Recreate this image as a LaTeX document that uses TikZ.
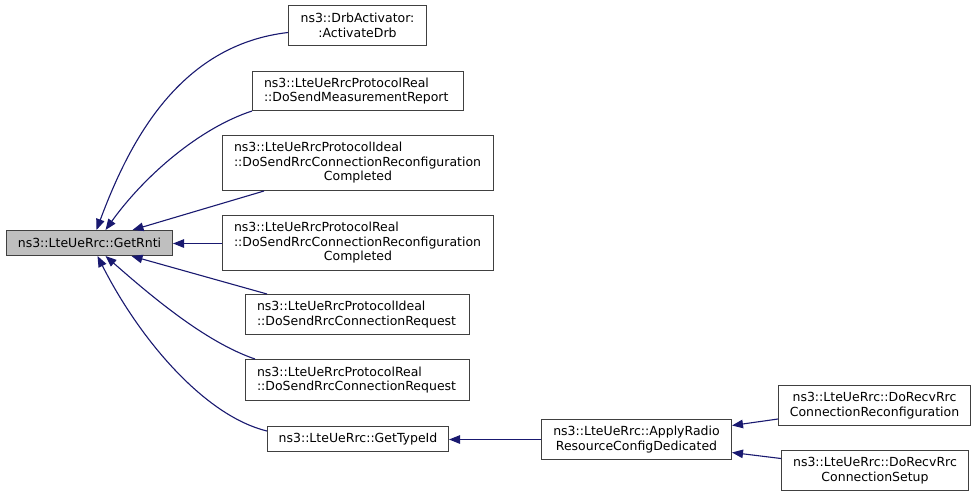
\documentclass[tikz,border=0pt]{standalone}
\usepackage{fontspec}
\setmainfont{DejaVu Sans}
\usetikzlibrary{arrows.meta,calc}
\definecolor{edgeblue}{HTML}{191970}
\definecolor{boxgray}{HTML}{BFBFBF}
\definecolor{boxline}{HTML}{404040}
\tikzset{
  box/.style={draw=boxline, line width=1pt, anchor=north west, inner xsep=0pt, inner ysep=0pt,
    font=\fontsize{12.5}{14.5}\selectfont, align=center},
  lbox/.style={box, align=left, inner xsep=11.5pt},
  edge/.style={draw=edgeblue, line width=1.1pt, -{Triangle[length=11pt,width=8.5pt]}},
}
\begin{document}
\begin{tikzpicture}[x=1pt,y=-1pt]
\useasboundingbox (0,0) rectangle (976,496);
\fill[white] (0,0) rectangle (976,496);

\node[box, fill=boxgray, minimum width=166pt, minimum height=25pt] (rnti) at (6,230) {ns3::LteUeRrc::GetRnti};
\node[box, minimum width=138pt, minimum height=40pt] (drb) at (288,5) {ns3::DrbActivator:\\:ActivateDrb};
\node[lbox, text width=188pt, minimum height=39pt] (meas) at (252,71) {ns3::LteUeRrcProtocolReal\\::DoSendMeasurementReport};
\node[lbox, text width=248pt, minimum height=55pt] (idealrec) at (222,135) {ns3::LteUeRrcProtocolIdeal\\::DoSendRrcConnectionReconfiguration\\\makebox[\linewidth][c]{Completed}};
\node[lbox, text width=248pt, minimum height=55pt] (realrec) at (222,215) {ns3::LteUeRrcProtocolReal\\::DoSendRrcConnectionReconfiguration\\\makebox[\linewidth][c]{Completed}};
\node[lbox, text width=201pt, minimum height=40pt] (idealreq) at (245,294) {ns3::LteUeRrcProtocolIdeal\\::DoSendRrcConnectionRequest};
\node[lbox, text width=201pt, minimum height=41pt] (realreq) at (245,359) {ns3::LteUeRrcProtocolReal\\::DoSendRrcConnectionRequest};
\node[box, minimum width=181pt, minimum height=25pt] (typeid) at (267,426) {ns3::LteUeRrc::GetTypeId};
\node[box, minimum width=190pt, minimum height=40pt] (apply) at (541,419) {ns3::LteUeRrc::ApplyRadio\\ResourceConfigDedicated};
\node[box, minimum width=192pt, minimum height=40pt] (recvrec) at (778,385) {ns3::LteUeRrc::DoRecvRrc\\ConnectionReconfiguration};
\node[box, minimum width=187pt, minimum height=40pt] (recvsetup) at (781,450) {ns3::LteUeRrc::DoRecvRrc\\ConnectionSetup};

\coordinate (rntiin) at ($(rnti.east)+(0,0.5)$);
\coordinate (typein) at ($(typeid.east)+(0,0.5)$);

\draw[edge] ($(drb.west)+(0,7)$) .. controls (180,45) and (130,140) .. ($(rnti.north)+(7,0)$);
\draw[edge] (meas.south west) .. controls (200,128) and (145,175) .. ($(rnti.north)+(16,0)$);
\draw[edge] ($(idealrec.south west)+(42,0)$) -- ($(rnti.north)+(43,0)$);
\draw[edge] (realrec.west |- rntiin) -- (rntiin);
\draw[edge] ($(idealreq.north west)+(22,0)$) -- ($(rnti.south)+(42,0)$);
\draw[edge] ($(realreq.north west)+(10,0)$) .. controls (205,342) and (150,295) .. ($(rnti.south)+(16,0)$);
\draw[edge] ($(typeid.west)+(0,-8)$) .. controls (205,416) and (140,340) .. ($(rnti.south)+(8,0)$);
\draw[edge] (apply.west |- typein) -- (typein);
\draw[edge] ($(recvrec.south west)+(0,-7)$) -- ($(apply.east)+(0,-14)$);
\draw[edge] ($(recvsetup.west)+(0,-12)$) -- ($(apply.east)+(0,13)$);
\end{tikzpicture}
\end{document}
